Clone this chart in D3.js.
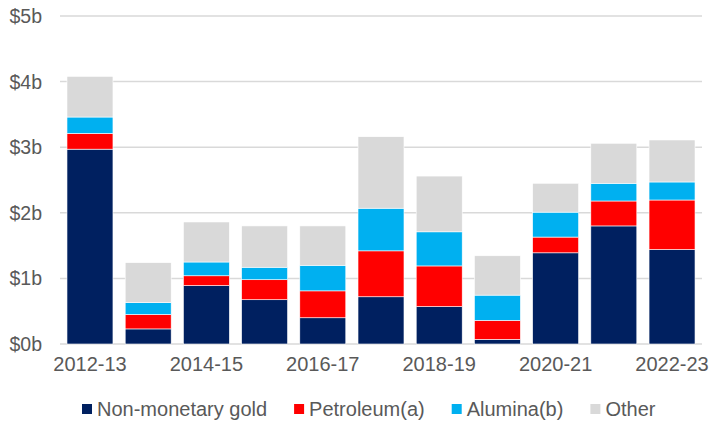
<!DOCTYPE html>
<html>
<head>
<meta charset="utf-8">
<script src="https://cdn.jsdelivr.net/npm/d3@7"></script>
<style>
  body { margin: 0; background: #fff; }
  svg text { font-family: "Liberation Sans", Arial, sans-serif; fill: #595959; }
</style>
</head>
<body>
<svg id="chart" width="709" height="422"></svg>
<script>
// values in $b
const years = ['2012-13', '2013-14', '2014-15', '2015-16', '2016-17', '2017-18',
    '2018-19', '2019-20', '2020-21', '2021-22', '2022-23']
const gold      = [2.97, 0.23, 0.89, 0.675, 0.40, 0.72, 0.57, 0.07, 1.39, 1.80, 1.44]
const petroleum = [0.24, 0.22, 0.15, 0.305, 0.41, 0.70, 0.62, 0.29, 0.24, 0.38, 0.755]
const alumina   = [0.25, 0.18, 0.21, 0.19, 0.39, 0.65, 0.52, 0.385, 0.38, 0.27, 0.275]
const other     = [0.62, 0.61, 0.61, 0.63, 0.60, 1.09, 0.85, 0.60, 0.44, 0.61, 0.64]
const shownYears = ['2012-13', '2014-15', '2016-17', '2018-19', '2020-21', '2022-23']
const yTicks = [0, 1, 2, 3, 4, 5]

const keys = ['gold', 'petroleum', 'alumina', 'other']
const names = ['Non-monetary gold', 'Petroleum(a)', 'Alumina(b)', 'Other']
const colors = ['#002060', '#ff0000', '#00b0f0', '#d9d9d9']

let svg = d3.select('#chart')

let rows = years.map(function (y, i) {
    return { year: y, gold: gold[i], petroleum: petroleum[i], alumina: alumina[i], other: other[i] }
})

let x = d3.scaleBand()
    .domain(years)
    .range([60, 702])
    .paddingInner(0.21)
    .paddingOuter(0.12)

let y = d3.scaleLinear()
    .domain([0, 5])
    .range([344, 16])

let color = d3.scaleOrdinal().domain(keys).range(colors)

// gridlines
svg.append('g')
    .selectAll('line')
    .data(yTicks)
    .join('line')
    .attr('x1', 60)
    .attr('x2', 702)
    .attr('y1', d => y(d))
    .attr('y2', d => y(d))
    .style('stroke', '#d9d9d9')
    .style('stroke-width', 1.5)

// y labels
svg.append('g')
    .selectAll('text')
    .data(yTicks)
    .join('text')
    .attr('x', 42)
    .attr('y', d => y(d))
    .attr('dy', '0.36em')
    .attr('text-anchor', 'end')
    .style('font-size', '19.5px')
    .text(d => '$' + d + 'b')

// stacked bars
let series = d3.stack().keys(keys)(rows)

svg.append('g')
    .selectAll('g')
    .data(series)
    .join('g')
    .style('fill', d => color(d.key))
    .selectAll('rect')
    .data(d => d)
    .join('rect')
    .attr('x', d => x(d.data.year))
    .attr('width', x.bandwidth())
    .attr('y', d => y(d[1]))
    .attr('height', d => y(d[0]) - y(d[1]))
    .style('stroke', '#fff')
    .style('stroke-width', 0.6)

// x axis labels (every other year)
let xAxis = svg.append('g')
    .attr('transform', 'translate(0,344)')
    .call(d3.axisBottom(x).tickValues(shownYears).tickSize(0).tickPadding(13))
xAxis.select('.domain').remove()
xAxis.selectAll('text')
    .style('font-size', '20px')
    .style('font-family', '"Liberation Sans", Arial, sans-serif')
    .style('fill', '#595959')

// legend
let legend = svg.append('g').attr('id', 'legend')
let lx = 82
names.forEach(function (n, i) {
    legend.append('rect')
        .attr('x', lx)
        .attr('y', 404)
        .attr('width', 10)
        .attr('height', 10)
        .style('fill', colors[i])
    let t = legend.append('text')
        .attr('x', lx + 15)
        .attr('y', 416)
        .style('font-size', '20px')
        .text(n)
    lx = lx + 15 + t.node().getComputedTextLength() + 27
})
</script>
</body>
</html>
